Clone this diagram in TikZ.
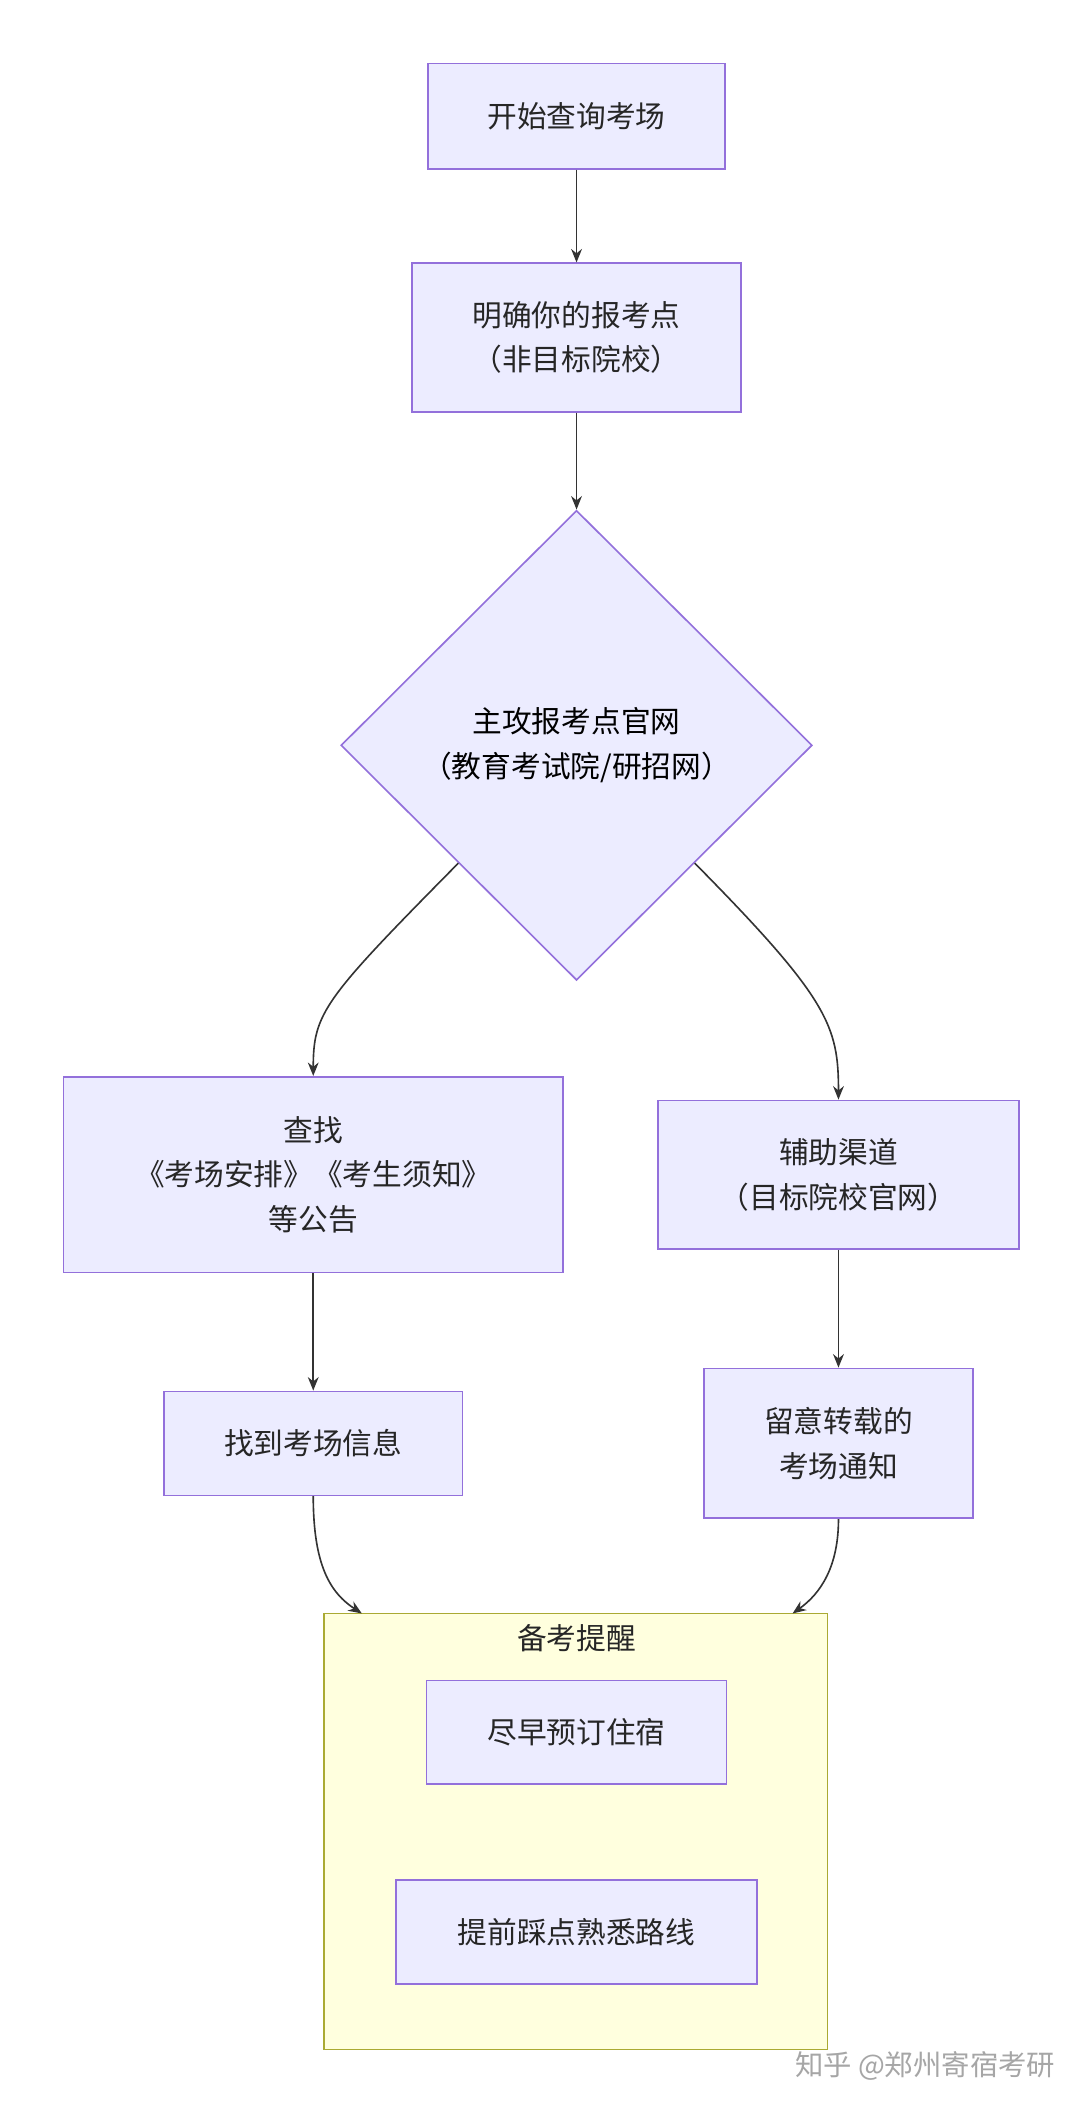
\documentclass[tikz,border=0pt]{standalone}
\usepackage{fontspec}
\setmainfont{Noto Sans CJK SC}
\usetikzlibrary{shapes.geometric,arrows.meta,positioning,calc}
\definecolor{nodefill}{HTML}{ECECFF}
\definecolor{nodeline}{HTML}{9370DB}
\definecolor{boxfill}{HTML}{FFFFDE}
\definecolor{boxline}{HTML}{AAAA33}
\definecolor{edgeline}{HTML}{333333}
\tikzset{
  stage/.style={rectangle,draw=nodeline,fill=nodefill,line width=1.2pt,align=center,font=\fontsize{22}{33}\selectfont,text=black!85},
  choice/.style={diamond,draw=nodeline,fill=nodefill,line width=1.2pt,align=center,font=\fontsize{22}{33}\selectfont,aspect=1,inner sep=0pt,minimum width=349pt,minimum height=348pt},
  flow/.style={draw=edgeline,line width=1.2pt,-{Stealth[length=10pt,width=8pt]}}
}
\begin{document}
\begin{tikzpicture}[x=1pt,y=-1pt]
  \useasboundingbox[fill=white] (0,0) rectangle (800,1562);

  % reminder group
  \node[draw=boxline,fill=boxfill,line width=1.2pt,minimum width=373pt,minimum height=323pt,inner sep=0pt] (tips) at (426.5,1356.5) {};
  \node[font=\fontsize{22}{26}\selectfont,text=black!85] (tipstitle) at (427,1213) {备考提醒};

  \node[stage,minimum width=220pt,minimum height=78pt] (start) at (427,86) {开始查询考场};
  \node[stage,minimum width=244pt,minimum height=110pt] (site) at (427,250) {明确你的报考点\\（非目标院校）};
  \node[choice] (main) at (427,552) {主攻报考点官网\\（教育考试院/研招网）};
  \node[stage,minimum width=370pt,minimum height=145pt] (search) at (232,870) {查找\\《考场安排》《考生须知》\\等公告};
  \node[stage,minimum width=267pt,minimum height=110pt] (aux) at (621,870) {辅助渠道\\（目标院校官网）};
  \node[stage,minimum width=221pt,minimum height=77pt] (found) at (232,1069) {找到考场信息};
  \node[stage,minimum width=199pt,minimum height=111pt] (notice) at (621,1069) {留意转载的\\考场通知};
  \node[stage,minimum width=222pt,minimum height=77pt] (hotel) at (427,1283) {尽早预订住宿};
  \node[stage,minimum width=267pt,minimum height=77pt] (route) at (427,1431) {提前踩点熟悉路线};

  \coordinate (tipsl) at (268,1195);
  \coordinate (tipsr) at (587,1195);

  \draw[flow] (start) -- (site);
  \draw[flow] (site) -- (main);
  \draw[flow] ($(main.west)!0.5!(main.south)$) .. controls (240,740) and (232,750) .. (search.north);
  \draw[flow] ($(main.east)!0.5!(main.south)$) .. controls (614,740) and (621,760) .. (aux.north);
  \draw[flow] (search) -- (found);
  \draw[flow] (aux) -- (notice);
  \draw[flow] (found.south) .. controls (232,1160) and (245,1180) .. (tipsl);
  \draw[flow] (notice.south) .. controls (621,1160) and (608,1180) .. (tipsr);

  \node[text=black!35,font=\fontsize{21}{24}\selectfont,anchor=east] (mark) at (785,1530) {知乎 @郑州寄宿考研};
\end{tikzpicture}
\end{document}
